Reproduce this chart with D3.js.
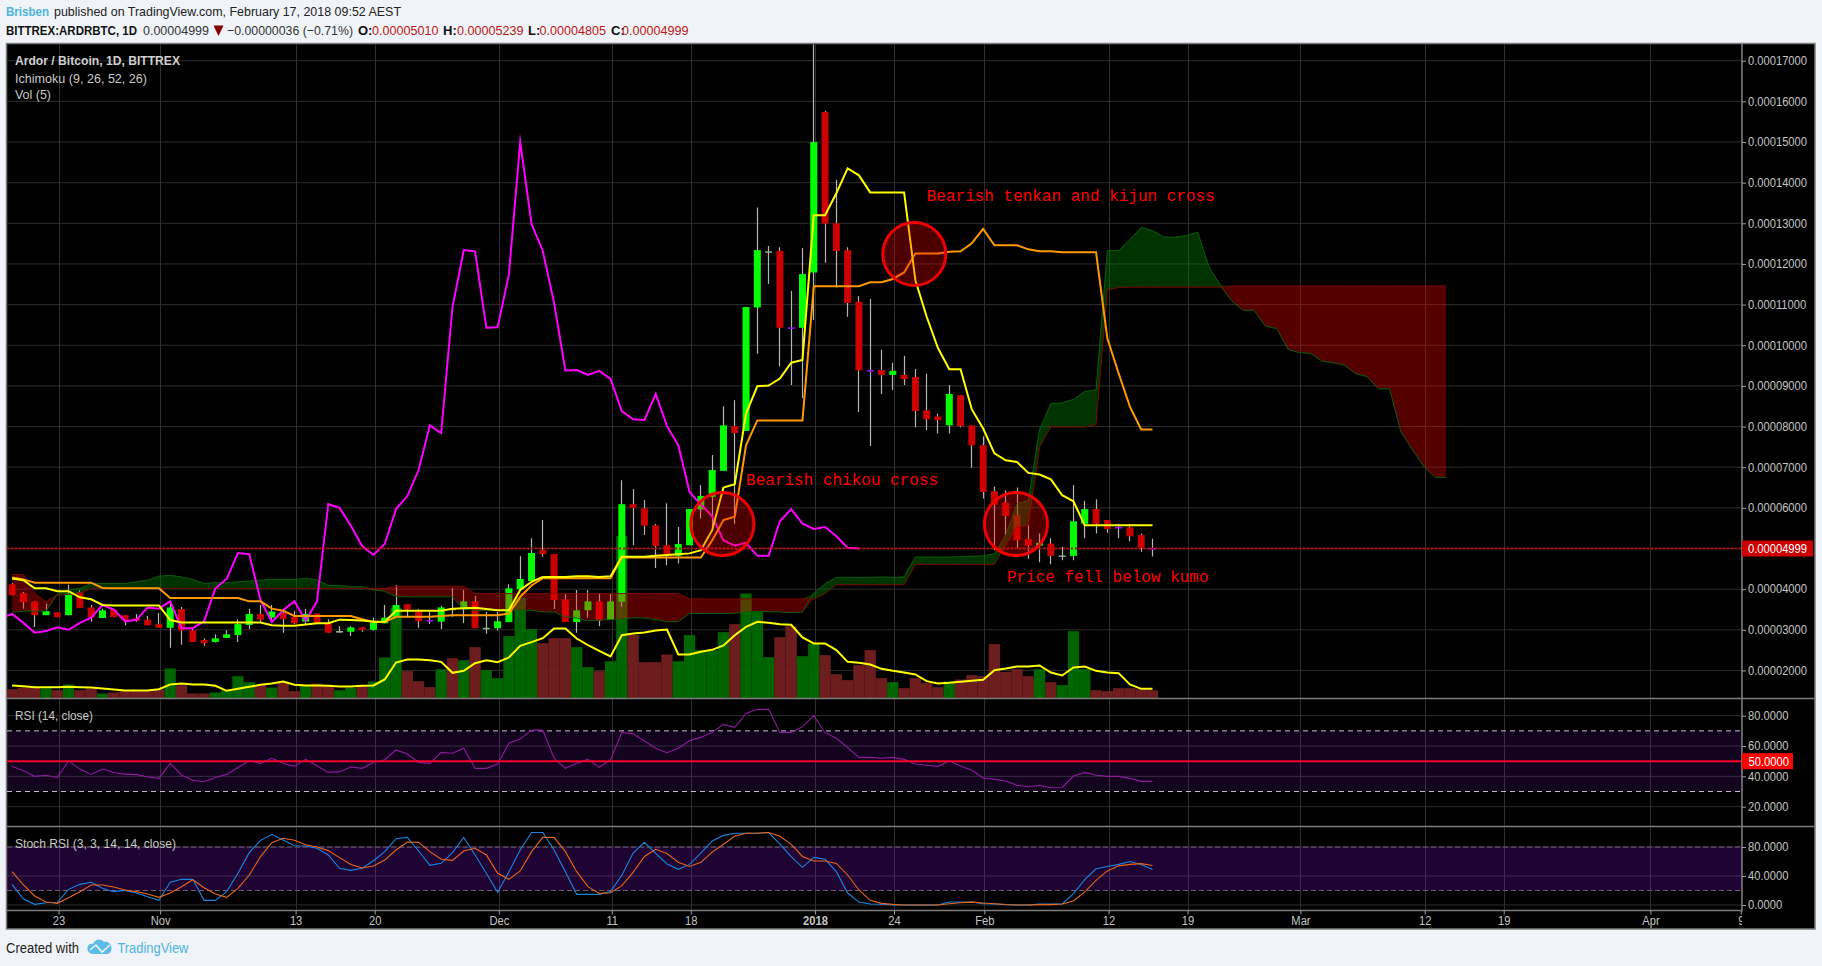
<!DOCTYPE html>
<html><head><meta charset="utf-8">
<script src="https://cdn.jsdelivr.net/npm/d3@7/dist/d3.min.js"></script>
<style>
html,body{margin:0;padding:0;background:#f0f3f7;overflow:hidden}
svg{display:block}
text{font-family:"Liberation Sans",Arial,sans-serif}
path{stroke-miterlimit:20}
</style></head><body>
<svg id="chart" width="1822" height="966"></svg>
<script>
// ---- Data (prices in units of 0.00001 BTC) ----
const opens=[4.12,3.90,3.70,3.36,3.43,3.36,3.93,3.55,3.29,3.50,3.36,3.28,3.25,3.14,3.05,3.51,2.99,2.75,2.70,2.80,2.87,3.12,3.39,3.30,3.42,3.32,3.20,3.40,3.17,2.93,2.95,3.06,3.00,3.16,3.32,3.63,3.44,3.21,3.20,3.52,3.52,3.70,3.05,3.04,3.19,4.00,4.20,4.96,4.86,3.75,3.19,3.48,3.70,3.24,3.69,6.09,5.99,5.57,5.08,4.82,5.08,5.96,6.27,6.91,8.01,7.89,10.93,12.29,12.32,10.44,10.43,11.79,15.74,13.0,12.34,11.07,9.39,9.39,9.27,9.27,9.22,8.40,8.25,8.03,8.77,8.03,7.54,6.41,6.13,5.82,5.23,5.07,5.12,4.83,4.82,5.61,5.97,5.70,5.53,5.52,5.33,5.01];
const highs=[4.15,3.93,3.70,3.65,3.43,4.11,3.98,3.61,3.52,3.52,3.36,3.39,3.34,3.42,3.69,3.56,3.07,2.79,2.89,2.99,3.26,3.51,3.61,3.61,3.52,3.46,3.51,3.40,3.26,3.09,3.09,3.06,3.30,3.61,4.10,3.63,3.52,3.43,3.59,4.02,3.98,3.83,3.44,3.44,4.12,4.81,5.25,5.70,4.86,3.88,3.98,3.98,3.89,3.89,6.68,6.46,6.19,5.60,6.11,5.53,5.97,6.56,7.30,8.50,8.65,10.94,13.39,12.44,12.41,11.34,12.39,17.4,15.77,14.07,12.41,11.21,11.14,9.89,9.57,9.74,9.42,9.3,8.32,9.02,8.77,8.03,7.76,6.52,6.43,6.5,5.57,5.37,5.25,5.04,6.56,6.17,6.21,5.70,5.61,5.60,5.37,5.239];
const lows=[3.85,3.52,3.07,3.36,3.31,3.36,3.54,3.20,3.29,3.31,3.11,3.20,3.11,3.05,2.56,2.63,2.70,2.61,2.69,2.80,2.70,3.02,3.20,3.20,2.93,3.14,3.14,3.17,2.93,2.93,2.85,2.95,2.98,3.16,3.32,3.30,3.05,3.14,3.02,3.32,3.17,3.04,2.90,2.98,3.19,4.00,4.20,4.80,3.51,3.19,2.93,3.30,3.09,3.24,3.57,5.08,5.33,4.52,4.59,4.63,5.08,5.74,5.45,6.91,5.61,7.89,9.79,11.51,9.48,9.02,8.70,10.62,12.03,11.42,10.7,8.36,7.52,8.8,8.9,9.02,7.98,7.91,7.83,7.83,7.98,6.99,6.23,4.96,5.33,5.02,4.75,4.66,4.61,4.71,4.71,5.25,5.37,5.39,5.25,5.18,4.92,4.805];
const closes=[3.85,3.68,3.36,3.46,3.31,3.89,3.54,3.30,3.48,3.31,3.24,3.22,3.11,3.05,3.55,2.98,2.70,2.67,2.79,2.89,3.14,3.39,3.25,3.45,3.26,3.16,3.39,3.17,2.93,2.97,3.06,3.00,3.17,3.30,3.61,3.50,3.21,3.24,3.55,3.52,3.70,3.04,3.04,3.21,4.02,4.25,4.89,4.86,3.73,3.19,3.48,3.70,3.22,3.70,6.09,6.00,5.56,5.06,4.84,5.11,5.97,6.29,6.93,8.03,7.84,10.94,12.34,12.31,10.43,10.44,11.75,15.0,12.99,12.32,11.04,9.38,9.39,9.27,9.37,9.17,8.38,8.18,8.16,8.80,8.01,7.54,6.39,6.08,5.80,5.20,5.07,5.14,4.82,4.82,5.67,5.97,5.61,5.48,5.53,5.30,5.02,4.999];
const dojiPurple=[37,69,76,98,101];
const dojiGrey=[29,39,42,67,93];
const volumes=[28,33,33,30,25,42,25,30,15,18,22,22,22,27,90,40,15,15,18,25,67,49,40,33,50,22,38,45,37,25,32,38,51,123,272,82,52,34,88,121,115,154,85,61,187,303,208,166,181,181,154,94,82,112,488,191,109,109,132,112,190,145,145,199,223,315,262,124,184,217,127,165,130,73,55,100,145,61,49,31,61,46,34,51,57,70,67,163,80,88,67,88,49,40,202,88,25,22,31,31,28,25];
const volUp=[0,0,0,1,0,1,0,0,1,0,0,0,0,0,1,0,0,0,1,1,1,1,0,1,0,0,1,0,0,1,1,0,1,1,1,0,0,0,1,0,1,0,1,1,1,1,1,0,0,0,1,1,0,1,1,0,0,0,0,1,1,1,1,1,0,1,1,1,0,0,1,1,0,0,0,0,0,0,1,0,0,0,0,1,0,0,0,0,0,0,0,1,0,1,1,1,0,0,0,0,0,0];
const volumeMA=[39,37,34,34,34,35,34,33,30,27,24,24,24,28,42,45,42,42,38,23,29,35,41,45,51,41,39,39,38,36,36,38,39,57,108,117,117,115,110,77,83,106,115,109,123,158,169,181,210,210,180,160,143,126,190,195,198,204,207,132,132,140,146,159,190,215,230,227,223,221,183,165,165,145,110,107,102,89,83,78,72,52,45,47,50,53,56,85,90,96,96,99,78,69,93,96,83,78,76,42,29,29];
const tenkan=[4.26,4.22,4.02,4.02,3.95,3.95,3.80,3.75,3.61,3.60,3.60,3.60,3.60,3.60,3.24,3.18,3.18,3.18,3.18,3.18,3.18,3.18,3.18,3.11,3.10,3.10,3.13,3.16,3.16,3.25,3.24,3.23,3.20,3.20,3.47,3.47,3.47,3.47,3.47,3.52,3.53,3.54,3.51,3.48,3.48,3.98,4.18,4.30,4.30,4.30,4.32,4.32,4.30,4.32,4.80,4.80,4.80,4.82,4.84,4.86,4.88,4.96,5.45,6.50,6.58,8.32,8.99,9.01,9.18,9.57,9.64,13.20,13.20,13.74,14.35,14.18,13.76,13.76,13.76,13.76,11.6,10.7,9.93,9.41,9.41,8.42,7.95,7.34,7.17,7.13,6.86,6.82,6.70,6.31,6.16,5.57,5.57,5.57,5.57,5.57,5.57,5.57];
const kijun=[4.29,4.24,4.16,4.16,4.16,4.16,4.16,4.16,4.03,4.02,4.02,4.02,4.02,4.02,3.78,3.78,3.78,3.78,3.78,3.78,3.78,3.70,3.70,3.52,3.47,3.34,3.34,3.34,3.34,3.34,3.34,3.26,3.19,3.19,3.32,3.32,3.32,3.32,3.34,3.36,3.36,3.36,3.36,3.36,3.40,3.81,4.09,4.27,4.27,4.27,4.27,4.27,4.27,4.27,4.78,4.78,4.78,4.78,4.78,4.78,4.78,4.78,5.20,5.70,5.78,7.54,8.15,8.15,8.15,8.15,8.15,11.45,11.45,11.45,11.45,11.45,11.55,11.55,11.63,11.79,12.26,12.26,12.26,12.30,12.31,12.51,12.86,12.46,12.46,12.46,12.36,12.31,12.31,12.29,12.29,12.29,12.29,10.17,9.31,8.49,7.93,7.93];
const chikouFirst=-1;
const chikou=[3.30,3.39,3.17,2.93,2.97,3.06,3.00,3.17,3.30,3.61,3.50,3.21,3.24,3.55,3.52,3.70,3.04,3.04,3.21,4.02,4.25,4.89,4.86,3.73,3.19,3.48,3.70,3.22,3.70,6.09,6.00,5.56,5.06,4.84,5.11,5.97,6.29,6.93,8.03,7.84,10.94,12.34,12.31,10.43,10.44,11.75,15.0,12.99,12.32,11.04,9.38,9.39,9.27,9.37,9.17,8.38,8.18,8.16,8.80,8.01,7.54,6.39,6.08,5.80,5.20,5.07,5.14,4.82,4.82,5.67,5.97,5.61,5.48,5.53,5.30,5.02,4.999];
const spanA=[3.43,3.46,3.46,3.46,3.88,3.98,4.02,4.14,4.14,4.14,4.14,4.18,4.22,4.32,4.34,4.30,4.24,4.14,4.16,4.16,4.18,4.20,4.22,4.24,4.24,4.24,4.27,4.23,4.09,4.09,4.06,4.06,3.98,3.95,3.82,3.81,3.81,3.81,3.81,3.81,3.51,3.48,3.48,3.48,3.48,3.48,3.48,3.44,3.44,3.32,3.29,3.22,3.24,3.25,3.25,3.30,3.29,3.25,3.20,3.20,3.40,3.40,3.40,3.40,3.41,3.44,3.45,3.45,3.44,3.42,3.44,3.90,4.13,4.29,4.29,4.29,4.29,4.30,4.29,4.30,4.79,4.79,4.79,4.79,4.80,4.81,4.82,4.87,5.33,6.10,6.18,7.93,8.57,8.58,8.67,8.86,8.90,12.33,12.33,12.60,12.90,12.82,12.66,12.66,12.70,12.78,11.93,11.48,11.10,10.86,10.86,10.47,10.41,9.90,9.82,9.80,9.61,9.57,9.51,9.30,9.23,8.93,8.93,7.87,7.44,7.03,6.75,6.75];
const spanB=[4.36,4.36,3.89,3.69,3.85,3.87,3.89,4.02,4.02,4.02,4.02,4.02,4.02,4.02,4.02,4.02,4.02,4.02,4.02,4.02,4.02,4.02,4.02,4.02,4.02,4.02,4.02,4.02,4.02,4.02,4.02,4.02,4.02,4.02,4.07,4.07,4.07,4.07,4.07,4.07,4.07,3.89,3.89,3.89,3.89,3.89,3.89,3.89,3.89,3.89,3.89,3.89,3.89,3.89,3.89,3.89,3.89,3.89,3.89,3.89,3.76,3.76,3.76,3.76,3.76,3.76,3.76,3.76,3.76,3.76,3.76,3.76,3.89,4.11,4.11,4.11,4.11,4.11,4.11,4.11,4.61,4.61,4.61,4.61,4.61,4.61,4.61,4.61,5.08,5.53,5.57,7.50,7.99,7.99,7.99,7.99,8.05,11.36,11.42,11.43,11.43,11.43,11.43,11.43,11.43,11.43,11.43,11.43,11.46,11.46,11.46,11.46,11.46,11.46,11.46,11.46,11.46,11.46,11.46,11.46,11.46,11.46,11.46,11.46,11.46,11.46,11.46,11.46];
const rsi=[46.6,43.7,40.0,40.7,39.3,50.1,44.8,41.3,44.8,42.6,41.3,41.3,39.6,38.7,48.6,40.9,37.4,36.5,39.3,41.3,45.9,50.3,48.6,51.9,48.6,46.6,51.2,47.0,42.6,43.1,46.2,45.3,49.2,51.0,57.4,54.7,49.2,48.6,55.8,55.2,58.5,45.3,45.3,48.1,61.8,64.6,70.5,70.5,51.9,45.3,48.6,51.2,45.9,51.0,69.0,68.1,63.3,58.5,55.6,58.5,63.5,65.7,69.0,74.3,72.3,81.5,84.2,84.2,69.0,69.0,72.7,80.0,68.8,65.1,58.9,52.5,52.5,51.9,52.5,51.2,48.1,47.3,46.6,50.1,46.8,44.0,38.9,38.0,36.9,34.1,33.2,34.1,32.5,32.7,40.2,42.6,40.7,40.0,40.0,38.7,36.7,36.7];
const stochK=[28.5,8.3,0.9,3.2,3.7,21.6,28.5,31.3,23,18.4,20.2,16.6,11.5,6.4,31.3,35.4,35.4,6.4,6.4,18.4,43.7,72.2,89.2,97.5,89.7,81.8,81.4,78.2,69,50.6,47.8,50.6,61.1,73.6,91.5,93.3,74.5,54.7,57.5,72.2,93.3,69,43.7,17.5,46,75.9,100,100,75.9,46,14.7,14.7,14.7,18.4,41,71.7,86.4,71.3,56.6,49.2,56,71.7,88.3,96,98.9,99,99,100,84,66.7,52,65.7,63,46,16.5,4,1.4,1,0,0,0,0,0,4.1,4.1,4.1,1.8,1.4,0.5,0,0,1.4,1.4,1.4,15.6,35,50,53,56,60,56,49];
const stochD=[46,27.6,12.4,4.1,2.3,10,18.4,27.6,27.6,24.8,20.7,18.4,15.2,10.6,16.6,25.3,34.9,23.9,15.2,10.6,23,41.4,66.7,86,92,89.2,83,80,75,65.3,56,51,53.8,62,75.9,86.9,86.4,73.6,63,61.6,74.5,78.2,69,43.7,35.4,46.9,73.6,93.3,93.3,73.6,46,25.3,16,17,26.7,45,67,76.8,71,58.9,53.2,58.9,73,83.7,94.7,99,99,100,94.7,83.7,67,60.7,60.7,57.4,41.4,20.7,6.4,2.3,0.9,0,0,0,0,1.8,3.2,4,2.8,1.8,0.7,0,0,0.5,0.5,1.4,5.5,18,34,47,54,56,57,54.5];
const priceTicks=[2,3,4,5,6,7,8,9,10,11,12,13,14,15,16,17];
const rsiTicks=[20,40,60,80];
const stochTicks=[0,40,80];
const timeLabels=["23","Nov","13","20","Dec","11","18","2018","24","Feb","12","19","Mar","12","19","Apr","9"];
const timeIndex=[4,13,25,32,43,53,60,71,78,86,97,104,114,125,132,145,153];
const lastPrice=4.999, circles=[[79.8,12.245],[62.8,5.6],[88.8,5.6]];
const notes=[["Bearish tenkan and kijun cross",80.9,13.65],["Bearish chikou cross",64.9,6.67],["Price fell below kumo",88,4.28]];

// ---- Layout ----
const L=7,R=1742,FR=1815,TOP=44,P1=698.5,P2=826.5,P3=910.5,BOT=929;
const x=d3.scaleLinear().domain([0,153]).range([13.34,1740.8]);
const bx=i=>x(i)-1.2;
const step=x(1)-x(0);
const y=d3.scaleLinear().domain([17,2]).range([60.7,670.45]);
const yV=d3.scaleLinear().domain([0,300]).range([P1,P1-100]);
const yR=d3.scaleLinear().domain([80,20]).range([715.7,806.7]);
const yS=d3.scaleLinear().domain([80,0]).range([847,905]);
const svg=d3.select("#chart");
const defs=svg.append("defs");
function clip(id,x0,y0,x1,y1){defs.append("clipPath").attr("id",id).append("rect").attr("x",x0).attr("y",y0).attr("width",x1-x0).attr("height",y1-y0);}
clip("cP",L,TOP,R,P1);clip("cR",L,P1,R,P2);clip("cS",L,P2,R,P3);clip("cT",L,P3,R,BOT);

function txt(g,px,py,s,o={}){
  const t=g.append("text").attr("x",px).attr("y",py).attr("dominant-baseline","central")
   .attr("font-size",o.size||12).attr("fill",o.color||"#c8c8c8").attr("font-weight",o.weight||"normal")
   .attr("text-anchor",o.anchor||"start").text(s);
  if(o.family)t.style("font-family",o.family);
  if(o.width)t.attr("textLength",o.width).attr("lengthAdjust","spacingAndGlyphs");
  return t;
}
// page header
const hdr=svg.append("g");
txt(hdr,6,11.5,"Brisben",{size:13.5,color:"#4db3e6",width:43,weight:"bold"});
txt(hdr,54,11.5,"published on TradingView.com, February 17, 2018 09:52 AEST",{size:13.5,color:"#222",width:347});
txt(hdr,6,30,"BITTREX:ARDRBTC, 1D",{size:13,color:"#111",weight:"bold",width:131});
txt(hdr,143,30,"0.00004999",{size:13,color:"#333",width:66});
hdr.append("path").attr("d","M213.5,25.5H223.5L218.5,36Z").attr("fill","#8b0000");
txt(hdr,227,30,"\u22120.00000036 (\u22120.71%)",{size:13,color:"#333",width:126});
[["O:",358,372,"0.00005010"],["H:",443,457,"0.00005239"],["L:",528,539.5,"0.00004805"],["C:",611,622,"0.00004999"]].forEach(a=>{
  txt(hdr,a[1],30,a[0],{size:13,color:"#111",weight:"bold"});
  txt(hdr,a[2],30,a[3],{size:13,color:"#c01616",width:66.5});
});

// frame
svg.append("rect").attr("x",6.5).attr("y",43.5).attr("width",FR-6.5).attr("height",BOT-43.5).attr("fill","#000").attr("stroke","#7d7d7d").attr("stroke-width",1.5);

// grid
const grid=svg.append("g").attr("stroke","#2e2e2e").attr("stroke-width",1);
grid.selectAll(".v").data(timeIndex).join("line").attr("x1",d=>Math.round(x(d))+.5).attr("x2",d=>Math.round(x(d))+.5).attr("y1",TOP).attr("y2",P3);
grid.selectAll(".p").data(priceTicks).join("line").attr("class","p").attr("x1",L).attr("x2",R).attr("y1",d=>y(d)).attr("y2",d=>y(d));
grid.selectAll(".r").data(rsiTicks).join("line").attr("class","r").attr("x1",L).attr("x2",R).attr("y1",d=>yR(d)).attr("y2",d=>yR(d));
grid.selectAll(".s").data(stochTicks).join("line").attr("class","s").attr("x1",L).attr("x2",R).attr("y1",d=>yS(d)).attr("y2",d=>yS(d));

// price pane
const pane=svg.append("g").attr("clip-path","url(#cP)");
// volume
pane.append("g").selectAll("rect").data(volumes).join("rect")
 .attr("x",(d,i)=>bx(i)-step/2).attr("width",step).attr("y",d=>yV(d)).attr("height",d=>P1-yV(d))
 .attr("fill",(d,i)=>volUp[i]?"#006d00":"#751f1f").attr("fill-opacity",.93);
// candles
const cg=pane.append("g");
cg.selectAll("line").data(closes).join("line").attr("x1",(d,i)=>Math.floor(bx(i))+.5).attr("x2",(d,i)=>Math.floor(bx(i))+.5)
 .attr("y1",(d,i)=>y(highs[i])).attr("y2",(d,i)=>y(lows[i])).attr("stroke","#b4b4b4").attr("stroke-width",1.2);
cg.selectAll("rect").data(closes).join("rect").attr("x",(d,i)=>bx(i)-3.5).attr("width",7)
 .attr("y",(d,i)=>Math.min(y(opens[i]),y(d)))
 .attr("height",(d,i)=>Math.max(1.5,Math.abs(y(opens[i])-y(d))))
 .attr("fill",(d,i)=>dojiPurple.includes(i)?"#9a10ff":dojiGrey.includes(i)?"#8fae8f":d>=opens[i]?"#00ff00":"#cc0000");
// cloud
const idx=d3.range(spanA.length);
const upArea=d3.area().x(i=>bx(i)).y0(i=>y(spanB[i])).y1(i=>y(Math.max(spanA[i],spanB[i])));
const dnArea=d3.area().x(i=>bx(i)).y0(i=>y(spanB[i])).y1(i=>y(Math.min(spanA[i],spanB[i])));
pane.append("path").attr("d",upArea(idx)).attr("fill","#008000").attr("fill-opacity",.4);
pane.append("path").attr("d",dnArea(idx)).attr("fill","#ff0000").attr("fill-opacity",.33);
const lineOf=arr=>d3.line().x((d,i)=>bx(i)).y(d=>y(d))(arr);
pane.append("path").attr("d",lineOf(spanA)).attr("fill","none").attr("stroke","#0d5c0d").attr("stroke-width",1);
pane.append("path").attr("d",lineOf(spanB)).attr("fill","none").attr("stroke","#7a0a00").attr("stroke-width",1);
// ichimoku lines
pane.append("path").attr("d",d3.line().x((d,i)=>bx(i+chikouFirst)).y(d=>y(d))(chikou)).attr("fill","none").attr("stroke","#ff00ff").attr("stroke-width",2);
pane.append("path").attr("d",lineOf(kijun)).attr("fill","none").attr("stroke","#ff9900").attr("stroke-width",2);
pane.append("path").attr("d",lineOf(tenkan)).attr("fill","none").attr("stroke","#ffff00").attr("stroke-width",2);
// volume MA
pane.append("path").attr("d",d3.line().x((d,i)=>bx(i)).y(d=>yV(d))(volumeMA)).attr("fill","none").attr("stroke","#ffff00").attr("stroke-width",2);
// last price
pane.append("line").attr("x1",L).attr("x2",R).attr("y1",y(lastPrice)).attr("y2",y(lastPrice)).attr("stroke","#d40000").attr("stroke-width",2).attr("stroke-dasharray","2 2");
// annotations
pane.append("g").selectAll("circle").data(circles).join("circle").attr("cx",d=>x(d[0])).attr("cy",d=>y(d[1])).attr("r",31.5)
 .attr("fill","#ff0000").attr("fill-opacity",.3).attr("stroke","#f00000").attr("stroke-width",3);
notes.forEach(n=>txt(pane,x(n[1]),y(n[2]),n[0],{size:16,color:"#ff0000",family:"'Liberation Mono',monospace"}));

// RSI
const rp=svg.append("g").attr("clip-path","url(#cR)");
rp.append("rect").attr("x",L).attr("width",R-L).attr("y",yR(70)).attr("height",yR(30)-yR(70)).attr("fill","#9915ff").attr("fill-opacity",.12);
[70,30].forEach(v=>rp.append("line").attr("x1",L).attr("x2",R).attr("y1",yR(v)).attr("y2",yR(v)).attr("stroke","#c9c4cf").attr("stroke-width",1).attr("stroke-dasharray","5 4"));
rp.append("path").attr("d",d3.line().x((d,i)=>bx(i)).y(d=>yR(d))(rsi)).attr("fill","none").attr("stroke","#8e1a9e").attr("stroke-width",1.1);
rp.append("line").attr("x1",L).attr("x2",R).attr("y1",yR(50)).attr("y2",yR(50)).attr("stroke","#f5002a").attr("stroke-width",2);

// Stoch
const sp=svg.append("g").attr("clip-path","url(#cS)");
sp.append("rect").attr("x",L).attr("width",R-L).attr("y",yS(80)).attr("height",yS(20)-yS(80)).attr("fill","#9915ff").attr("fill-opacity",.2);
[80,20].forEach(v=>sp.append("line").attr("x1",L).attr("x2",R).attr("y1",yS(v)).attr("y2",yS(v)).attr("stroke","#6e6078").attr("stroke-width",1).attr("stroke-dasharray","5 3"));
sp.append("path").attr("d",d3.line().x((d,i)=>bx(i)).y(d=>yS(d))(stochK)).attr("fill","none").attr("stroke","#1a85e0").attr("stroke-width",1.1);
sp.append("path").attr("d",d3.line().x((d,i)=>bx(i)).y(d=>yS(d))(stochD)).attr("fill","none").attr("stroke","#e8661a").attr("stroke-width",1.1);

// separators
const sep=svg.append("g").attr("stroke","#7d7d7d").attr("stroke-width",1.5);
[P1,P2].forEach(v=>sep.append("line").attr("x1",L).attr("x2",FR).attr("y1",v).attr("y2",v));
sep.append("line").attr("x1",L).attr("x2",R).attr("y1",P3).attr("y2",P3);
sep.append("line").attr("x1",R).attr("x2",R).attr("y1",TOP).attr("y2",P3+1);

// axes
function styleAxis(g){
  g.select(".domain").remove();
  g.selectAll("line").attr("stroke","#a0a0a0");
  g.selectAll("text").attr("fill","#c4c4c4").attr("font-size",12).style("font-family",'"Liberation Sans",Arial,sans-serif').each(function(){
    const w=this.getComputedTextLength()*0.93;
    d3.select(this).attr("textLength",w).attr("lengthAdjust","spacingAndGlyphs");
  });
}
svg.append("g").attr("transform",`translate(${R},0)`).call(d3.axisRight(y).tickValues(priceTicks).tickSize(4).tickPadding(2).tickFormat(d=>(d*1e-5).toFixed(8))).call(styleAxis);
svg.append("g").attr("transform",`translate(${R},0)`).call(d3.axisRight(yR).tickValues(rsiTicks).tickSize(4).tickPadding(2).tickFormat(d=>d.toFixed(4))).call(styleAxis);
svg.append("g").attr("transform",`translate(${R},0)`).call(d3.axisRight(yS).tickValues(stochTicks).tickSize(4).tickPadding(2).tickFormat(d=>d.toFixed(4))).call(styleAxis);
svg.append("g").attr("clip-path","url(#cT)").append("g").attr("transform",`translate(0,${P3})`)
 .call(d3.axisBottom(x).tickValues(timeIndex).tickSize(4).tickPadding(2).tickFormat((d,i)=>timeLabels[i])).call(styleAxis)
 .selectAll("text").attr("font-weight",(d,i)=>timeLabels[i]==="2018"?"bold":"normal");

// price tags
const tag=svg.append("g");
tag.append("rect").attr("x",R).attr("y",y(lastPrice)-8).attr("width",71).attr("height",16).attr("fill","#cc0000");
txt(tag,1748,y(lastPrice)+.5,(lastPrice*1e-5).toFixed(8),{size:12,color:"#fff",width:59});
tag.append("rect").attr("x",R).attr("y",yR(50)-8).attr("width",51).attr("height",16).attr("fill","#ff0000");
txt(tag,1748.5,yR(50)+.5,"50.0000",{size:12,color:"#fff",width:40.5});

// pane legends
const lg=svg.append("g");
txt(lg,15,60.7,"Ardor / Bitcoin, 1D, BITTREX",{size:13,weight:"bold",color:"#d0d0d0",width:165});
txt(lg,15,78,"Ichimoku (9, 26, 52, 26)",{size:13,width:132});
txt(lg,15,94.3,"Vol (5)",{size:13,width:36});
txt(lg,15,715.7,"RSI (14, close)",{size:13,width:78});
txt(lg,15,843.3,"Stoch RSI (3, 3, 14, 14, close)",{size:13,width:161});

// footer
const ft=svg.append("g");
txt(ft,6,948,"Created with",{size:14,color:"#222",width:73});
ft.append("path").attr("d","M88,951 C86,946 90,943 93,944 C95,939 101,938 104,942 C109,941 113,946 111,951 C110,954 107,954 105,954 L93,954 C91,954 89,953 88,951Z").attr("fill","#5bbde8");
ft.append("path").attr("d","M90,950 L96,945 L102,952 L110,945").attr("fill","none").attr("stroke","#f0f3f7").attr("stroke-width",1.6);
txt(ft,117.4,948,"TradingView",{size:14,color:"#4db3e6",width:71});
</script>
</body></html>
